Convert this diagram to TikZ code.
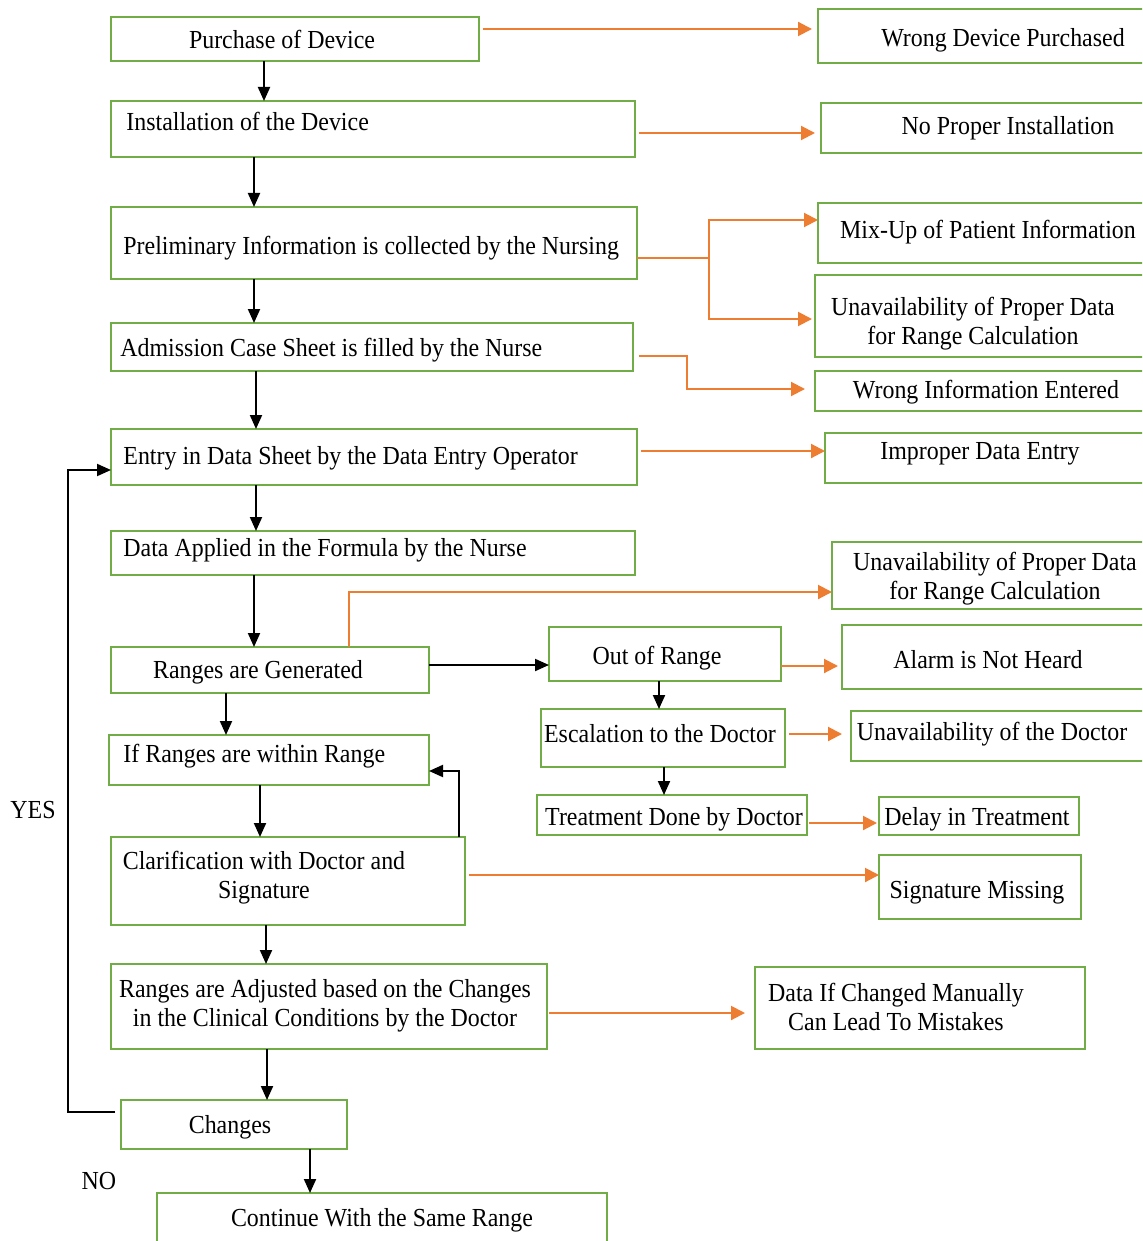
\documentclass[tikz,border=0pt]{standalone}
\usepackage{fontspec}
\setmainfont{Liberation Serif}[FakeStretch=0.92]
\usetikzlibrary{arrows.meta}
\definecolor{boxgreen}{HTML}{70AD47}
\definecolor{orng}{HTML}{ED7D31}
\newcommand\fs{\fontsize{13pt}{14.5pt}\selectfont}
\newcommand\bx[5]{\node[box, minimum width={(#4-#2)*0.5pt}, minimum height={(#5-#3)*0.5pt}] (#1) at ({(#2+#4)/2},{(#3+#5)/2}) {};}
\tikzset{
  box/.style={draw=boxgreen, line width=1.1pt, rectangle, inner sep=0pt, outer sep=0pt},
  txt/.style={font=\fs, inner sep=0pt, text height=9pt, text depth=2.5pt, yshift=-1pt},
  txtm/.style={font=\fs, inner sep=0pt, align=center, yshift=-1pt},
  barrow/.style={draw=black, line width=1pt, -{Triangle[length=7pt,width=6pt]}},
  oarrow/.style={draw=orng, line width=1pt, -{Triangle[length=7pt,width=7pt]}},
}
\begin{document}
\begin{tikzpicture}[x=0.5pt,y=-0.5pt]
\useasboundingbox (0,0) rectangle (1142,1241);
\clip (0,0) rectangle (1142,1241);
% left column boxes
\bx{b1}{111}{17}{479}{61}
\bx{b2}{111}{101}{635}{157}
\bx{b3}{111}{207}{637}{279}
\bx{b4}{111}{323}{633}{371}
\bx{b5}{111}{429}{637}{485}
\bx{b6}{111}{531}{635}{575}
\bx{b7}{111}{647}{429}{693}
\bx{b8}{109}{735}{429}{785}
\bx{b9}{111}{837}{465}{925}
\bx{b10}{111}{964}{547}{1049}
\bx{b11}{121}{1100}{347}{1149}
\bx{b12}{157}{1193}{607}{1252}
% middle boxes
\bx{oor}{549}{627}{781}{681}
\bx{esc}{541}{709}{785}{767}
\bx{treat}{537}{795}{807}{835}
% right boxes
\bx{r1}{818}{9}{1152}{63}
\bx{r2}{821}{103}{1152}{153}
\bx{r3}{818}{203}{1152}{263}
\bx{r4}{815}{275}{1152}{357}
\bx{r5}{815}{371}{1152}{411}
\bx{r6}{825}{433}{1152}{483}
\bx{r7}{832}{542}{1152}{609}
\bx{alarm}{842}{625}{1152}{689}
\bx{unavdoc}{851}{711}{1152}{761}
\bx{delay}{879}{797}{1079}{835}
\bx{sigmiss}{879}{855}{1081}{919}
\bx{datachg}{755}{967}{1085}{1049}
% texts
\node[txt] (b1t) at (282,40) {Purchase of Device};
\node[txt, anchor=west] (b2t) at (126,122) {Installation of the Device};
\node[txt, anchor=west] (b3t) at (123,246) {Preliminary Information is collected by the Nursing};
\node[txt, anchor=west] (b4t) at (120,348) {Admission Case Sheet is filled by the Nurse};
\node[txt, anchor=west] (b5t) at (123,456) {Entry in Data Sheet by the Data Entry Operator};
\node[txt, anchor=west] (b6t) at (123,548) {Data Applied in the Formula by the Nurse};
\node[txt] (b7t) at (258,670) {Ranges are Generated};
\node[txt, anchor=west] (b8t) at (123,754) {If Ranges are within Range};
\node[txtm] (b9t) at (264,876) {Clarification with Doctor and\\Signature};
\node[txtm] (b10t) at (325,1004) {Ranges are Adjusted based on the Changes\\in the Clinical Conditions by the Doctor};
\node[txt] (b11t) at (230,1125) {Changes};
\node[txt] (b12t) at (382,1218) {Continue With the Same Range};
\node[txt] (oort) at (657,656) {Out of Range};
\node[txt] (esct) at (660,734) {Escalation to the Doctor};
\node[txt] (treatt) at (674,817) {Treatment Done by Doctor};
\node[txt] (r1t) at (1003,38) {Wrong Device Purchased};
\node[txt] (r2t) at (1008,126) {No Proper Installation};
\node[txt] (r3t) at (988,230) {Mix-Up of Patient Information};
\node[txtm] (r4t) at (973,322) {Unavailability of Proper Data\\for Range Calculation};
\node[txt] (r5t) at (986,390) {Wrong Information Entered};
\node[txt] (r6t) at (980,451) {Improper Data Entry};
\node[txtm] (r7t) at (995,577) {Unavailability of Proper Data\\for Range Calculation};
\node[txt] (alarmt) at (988,660) {Alarm is Not Heard};
\node[txt] (unavdoct) at (992,732) {Unavailability of the Doctor};
\node[txt] (delayt) at (977,817) {Delay in Treatment};
\node[txt] (sigmisst) at (977,890) {Signature Missing};
\node[txtm] (datachgt) at (896,1005) {Data If Changed Manually\\Can Lead To Mistakes};
\node[txt] (yes) at (33,810) {YES};
\node[txt] (no) at (99,1181) {NO};
% black connectors
\draw[barrow] (264,0 |- b1.south) -- (264,0 |- b2.north);
\draw[barrow] (254,0 |- b2.south) -- (254,0 |- b3.north);
\draw[barrow] (254,0 |- b3.south) -- (254,0 |- b4.north);
\draw[barrow] (256,0 |- b4.south) -- (256,0 |- b5.north);
\draw[barrow] (256,0 |- b5.south) -- (256,0 |- b6.north);
\draw[barrow] (254,0 |- b6.south) -- (254,0 |- b7.north);
\draw[barrow] (226,0 |- b7.south) -- (226,0 |- b8.north);
\draw[barrow] (260,0 |- b8.south) -- (260,0 |- b9.north);
\draw[barrow] (459,0 |- b9.north) |- (b8.east |- 0,771);
\draw[barrow] (266,0 |- b9.south) -- (266,0 |- b10.north);
\draw[barrow] (267,0 |- b10.south) -- (267,0 |- b11.north);
\draw[barrow] (310,0 |- b11.south) -- (310,0 |- b12.north);
\draw[barrow, shorten <=3pt] (b11.west |- 0,1112) -- (68,1112) |- (b5.west |- 0,470);
\draw[barrow] (b7.east |- 0,665) -- (oor.west |- 0,665);
\draw[barrow] (659,0 |- oor.south) -- (659,0 |- esc.north);
\draw[barrow] (664,0 |- esc.south) -- (664,0 |- treat.north);
% orange connectors
\draw[oarrow, shorten <=2pt, shorten >=3pt] (b1.east |- 0,29) -- (r1.west |- 0,29);
\draw[oarrow, shorten <=2pt, shorten >=3pt] (b2.east |- 0,133) -- (r2.west |- 0,133);
\coordinate (split3) at (709,258);
\draw[oarrow] (b3.east |- split3) -- (split3) |- (r3.west |- 0,220);
\draw[oarrow, shorten >=1.5pt] (split3) |- (r4.west |- 0,319);
\draw[oarrow, shorten <=3pt, shorten >=5pt] (b4.east |- 0,356) -- (687,356) |- (r5.west |- 0,389);
\draw[oarrow, shorten <=2pt] (b5.east |- 0,451) -- (r6.west |- 0,451);
\draw[oarrow] (349,0 |- b7.north) |- (r7.west |- 0,592);
\draw[oarrow, shorten >=2pt] (oor.east |- 0,666) -- (alarm.west |- 0,666);
\draw[oarrow, shorten <=2pt, shorten >=4.5pt] (esc.east |- 0,734) -- (unavdoc.west |- 0,734);
\draw[oarrow, shorten <=1pt, shorten >=1pt] (treat.east |- 0,823) -- (delay.west |- 0,823);
\draw[oarrow, shorten <=2pt] (b9.east |- 0,875) -- (sigmiss.west |- 0,875);
\draw[oarrow, shorten <=1pt, shorten >=5pt] (b10.east |- 0,1013) -- (datachg.west |- 0,1013);
\end{tikzpicture}
\end{document}
